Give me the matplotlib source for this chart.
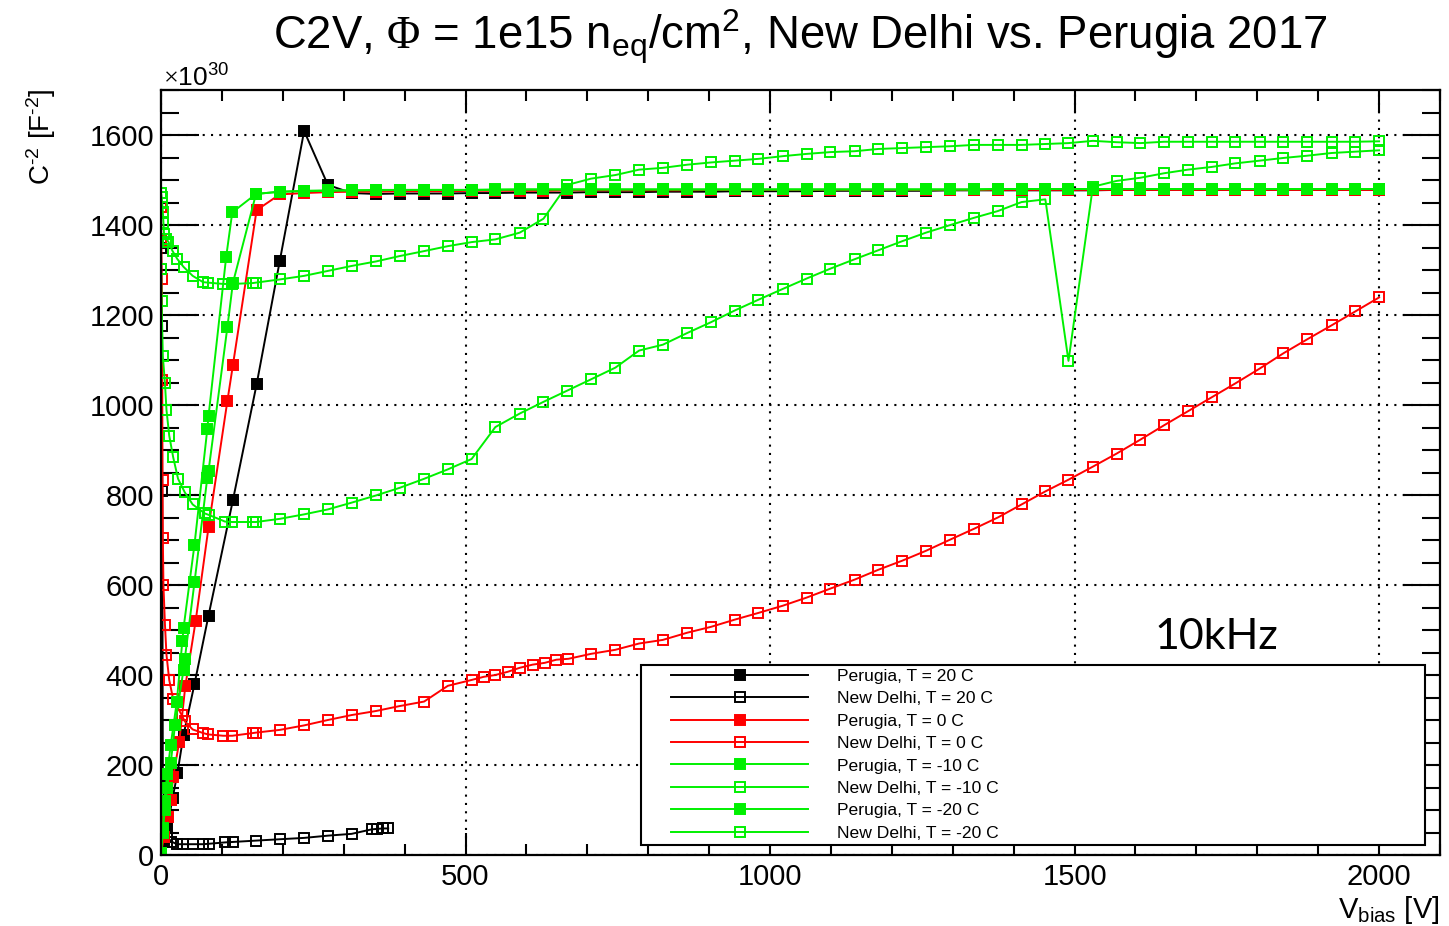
import matplotlib
matplotlib.use("Agg")
import matplotlib.pyplot as plt
from matplotlib.ticker import MultipleLocator
from matplotlib.legend_handler import HandlerLine2D

plt.rcParams["font.family"] = ["Liberation Sans", "DejaVu Sans"]
plt.rcParams["mathtext.fontset"] = "custom"
plt.rcParams["mathtext.rm"] = "Liberation Serif"
plt.rcParams["mathtext.sf"] = "Liberation Sans"
plt.rcParams["mathtext.it"] = "Liberation Sans:italic"
plt.rcParams["mathtext.bf"] = "Liberation Sans:bold"

# bias voltage steps [V] shared by most scans above ~190 V
v_grid = [195, 235, 274, 313, 353, 392, 432, 471, 510, 549,
          589, 628, 667, 706, 746, 785, 824, 864, 903, 942,
          981, 1021, 1060, 1099, 1139, 1178, 1217, 1256, 1296, 1335,
          1374, 1413, 1452, 1490, 1530, 1569, 1608, 1647, 1686, 1725,
          1764, 1804, 1843, 1882, 1922, 1961, 2000]

# C^-2 values in units of 1e30 F^-2
# Perugia, T = 20 C
pg20_v = [0, 5, 10, 19, 27, 37, 55, 78, 118, 157] + v_grid
pg20_c = [5, 30, 60, 126, 182, 267, 380, 532, 788, 1046,
          1320, 1609, 1489, 1471, 1469, 1470, 1470, 1470, 1471, 1471,
          1472, 1472, 1472, 1473, 1473, 1473, 1474, 1474, 1474, 1475,
          1475, 1475, 1475, 1476, 1476, 1476, 1476, 1476, 1477, 1477,
          1477, 1477, 1477, 1477, 1477, 1478, 1478, 1478, 1478, 1478,
          1478, 1478, 1478, 1478, 1478, 1478, 1478]

# New Delhi, T = 20 C
nd20_v = [0, 0.5, 1, 2, 3, 6, 10, 17, 26, 36, 53, 69, 79, 105, 118, 156,
          195, 235, 274, 313, 346, 355, 364, 373]
nd20_c = [1350, 1302, 1176, 808, 176, 80, 40, 30, 24, 24, 24, 24, 25, 28, 29, 32,
          35, 38, 43, 47, 57, 58, 59, 59]

# Perugia, T = 0 C
pg0_v = [0, 5, 12, 16, 20, 30, 40, 57, 78, 109, 118, 157] + v_grid
pg0_c = [5, 40, 85, 122, 174, 252, 376, 521, 728, 1009, 1088, 1433,
         1468, 1471, 1473, 1474, 1474, 1475, 1475, 1475, 1476, 1476,
         1476, 1476, 1477, 1477, 1477, 1477, 1477, 1477, 1478, 1478,
         1478, 1478, 1478, 1478, 1478, 1478, 1478, 1478, 1478, 1478,
         1478, 1478, 1478, 1478, 1478, 1478, 1478, 1478, 1478, 1478,
         1478, 1478, 1478, 1478, 1478, 1478, 1478]

# New Delhi, T = 0 C
nd0_v = [0, 0.5, 1, 2, 2.5, 3, 4, 6.5, 9, 13.5,
         20, 34, 39, 52, 69, 77, 102, 117, 151, 156,
         195, 235, 274, 313, 353, 392, 432, 471, 510, 530,
         549, 569, 589, 610, 630, 649, 669, 706, 746, 785,
         824, 864, 903, 942, 981, 1021, 1060, 1099, 1139, 1178,
         1217, 1256, 1296, 1335, 1374, 1413, 1452, 1490, 1530, 1569,
         1608, 1647, 1686, 1725, 1764, 1804, 1843, 1882, 1922, 1961,
         2000]
nd0_c = [1440, 1365, 1279, 1055, 834, 705, 599, 512, 445, 389,
         346, 311, 297, 279, 271, 268, 265, 265, 271, 272,
         278, 288, 300, 311, 320, 331, 341, 376, 389, 396,
         400, 407, 416, 423, 427, 434, 436, 447, 456, 470,
         478, 494, 507, 523, 538, 554, 572, 592, 612, 634,
         654, 676, 701, 725, 750, 779, 808, 834, 863, 892,
         923, 955, 986, 1017, 1048, 1081, 1115, 1146, 1177, 1208,
         1239]

# Perugia, T = -10 C
pgm10_v = [0, 3, 6, 10, 16, 23, 37, 39, 55, 76, 78, 109, 118, 156] + v_grid
pgm10_c = [5, 50, 100, 150, 204, 289, 412, 435, 606, 838, 853, 1173, 1271, 1469,
           1474, 1475, 1476, 1477, 1477, 1478, 1478, 1478, 1478, 1478,
           1479, 1479, 1479, 1479, 1479, 1479, 1479, 1479, 1479, 1479,
           1479, 1479, 1479, 1479, 1479, 1479, 1479, 1479, 1479, 1479,
           1480, 1480, 1480, 1480, 1480, 1480, 1480, 1480, 1480, 1480,
           1480, 1480, 1480, 1480, 1480, 1480, 1480]

# New Delhi, T = -10 C
ndm10_v = [0, 1, 3, 6.5, 9, 13.5, 20, 28, 39, 52, 72, 78, 105, 117, 151, 156] + v_grid
ndm10_c = [1302, 1231, 1109, 1048, 989, 932, 884, 836, 806, 779, 759, 756, 741, 740, 740, 740,
           747, 757, 768, 783, 799, 816, 836, 857, 880, 951,
           981, 1007, 1032, 1057, 1083, 1121, 1134, 1160, 1184, 1210,
           1234, 1258, 1281, 1303, 1324, 1344, 1364, 1383, 1400, 1416,
           1431, 1451, 1457, 1098, 1485, 1498, 1505, 1515, 1523, 1529,
           1537, 1543, 1549, 1554, 1560, 1563, 1566]

# Perugia, T = -20 C
pgm20_v = [0, 3, 6, 10, 16, 26, 35, 37, 55, 76, 78, 107, 117, 156] + v_grid
pgm20_c = [5, 60, 120, 180, 245, 341, 475, 504, 690, 946, 975, 1329, 1428, 1469,
           1474, 1476, 1477, 1477, 1478, 1478, 1478, 1478, 1478, 1479,
           1479, 1479, 1479, 1479, 1479, 1479, 1479, 1479, 1479, 1479,
           1479, 1479, 1479, 1479, 1479, 1479, 1479, 1479, 1479, 1479,
           1480, 1480, 1480, 1480, 1480, 1480, 1480, 1480, 1480, 1480,
           1480, 1480, 1480, 1480, 1480, 1480, 1480]

# New Delhi, T = -20 C
ndm20_v = [0, 1, 2, 3, 4, 5, 8, 12, 19, 27, 37, 52, 69, 77, 102, 117, 151, 156] + v_grid
ndm20_c = [1472, 1462, 1448, 1430, 1405, 1380, 1370, 1363, 1342, 1324, 1307, 1287,
           1273, 1272, 1269, 1269, 1271, 1272,
           1279, 1287, 1298, 1309, 1319, 1331, 1342, 1353, 1362, 1368,
           1383, 1414, 1489, 1503, 1511, 1523, 1527, 1534, 1539, 1543,
           1547, 1553, 1558, 1562, 1564, 1569, 1571, 1573, 1575, 1578,
           1578, 1578, 1580, 1582, 1587, 1584, 1582, 1585, 1585, 1585,
           1585, 1585, 1585, 1585, 1585, 1585, 1586]

green = "#00f000"
series = [
    (pg20_v, pg20_c, "black", True, "Perugia, T = 20 C"),
    (nd20_v, nd20_c, "black", False, "New Delhi, T = 20 C"),
    (pg0_v, pg0_c, "red", True, "Perugia, T = 0 C"),
    (nd0_v, nd0_c, "red", False, "New Delhi, T = 0 C"),
    (pgm10_v, pgm10_c, green, True, "Perugia, T = -10 C"),
    (ndm10_v, ndm10_c, green, False, "New Delhi, T = -10 C"),
    (pgm20_v, pgm20_c, green, True, "Perugia, T = -20 C"),
    (ndm20_v, ndm20_c, green, False, "New Delhi, T = -20 C"),
]

fig = plt.figure(figsize=(14.49, 9.26), dpi=100)
ax = fig.add_axes([161 / 1449, 1 - 855 / 926, 1279 / 1449, 765 / 926])

for v, c, col, filled, lab in series:
    ax.plot(v, c, color=col, lw=1.4, marker="s", ms=6.5, mew=1.4,
            mfc=col if filled else "none", mec=col, label=lab)

ax.set_xlim(0, 2100)
ax.set_ylim(0, 1700)
ax.xaxis.set_major_locator(MultipleLocator(500))
ax.xaxis.set_minor_locator(MultipleLocator(100))
ax.yaxis.set_major_locator(MultipleLocator(200))
ax.yaxis.set_minor_locator(MultipleLocator(50))
ax.grid(True, which="major", color="black", lw=1.5, ls=(0, (1, 3)))
ax.set_axisbelow(True)
ax.tick_params(which="both", direction="in", top=True, right=True, width=1.5,
               labelsize=21)
ax.tick_params(axis="x", which="major", length=16, pad=6)
ax.tick_params(axis="x", which="minor", length=8)
ax.tick_params(axis="y", which="major", length=27, pad=5)
ax.tick_params(axis="y", which="minor", length=13)
for sp in ax.spines.values():
    sp.set_linewidth(1.6)


class PaddedLine(HandlerLine2D):
    # keeps a gap between the frame and the start of the sample line
    def create_artists(self, legend, orig_handle, xdescent, ydescent,
                       width, height, fontsize, trans):
        pad = 0.16 * width
        return super().create_artists(legend, orig_handle, xdescent - pad, ydescent,
                                      width - pad, height, fontsize, trans)


handles, labels = ax.get_legend_handles_labels()
leg = ax.legend(handles, labels, loc="lower left",
                bbox_to_anchor=(0.3753, 0.0131, 0.613, 0.238), mode="expand",
                fontsize=12.6, frameon=True, fancybox=False, framealpha=1,
                edgecolor="black", borderpad=0.235, labelspacing=0.41,
                handlelength=9.32, handletextpad=1.66, borderaxespad=0,
                handler_map={h: PaddedLine() for h in handles})
leg.get_frame().set_linewidth(1.5)

ax.text(0.777, 0.269, "10kHz", transform=ax.transAxes, fontsize=31,
        family=["Lato", "DejaVu Sans"], va="baseline", ha="left")

fig.text(800.5 / 1449, 1 - 50 / 926,
         r"C2V, $\Phi$ = 1e15 n$_{\mathsf{eq}}$/cm$^{\mathsf{2}}$, New Delhi vs. Perugia 2017",
         ha="center", va="baseline", fontsize=32.8)
fig.text(163 / 1449, 1 - 87 / 926, r"$\times$10$^{\mathsf{30}}$",
         ha="left", va="baseline", fontsize=19)
fig.text(41 / 1449, 1 - 88 / 926, "C$^{\\mathsf{\u20102}}$ [F$^{\\mathsf{\u20102}}$]",
         rotation=90, ha="center", va="top", fontsize=20)
fig.text(1440 / 1449, 1 - 918 / 926, r"V$_{\mathsf{bias}}$ [V]",
         ha="right", va="baseline", fontsize=21)

fig.savefig("out.png", dpi=100)
